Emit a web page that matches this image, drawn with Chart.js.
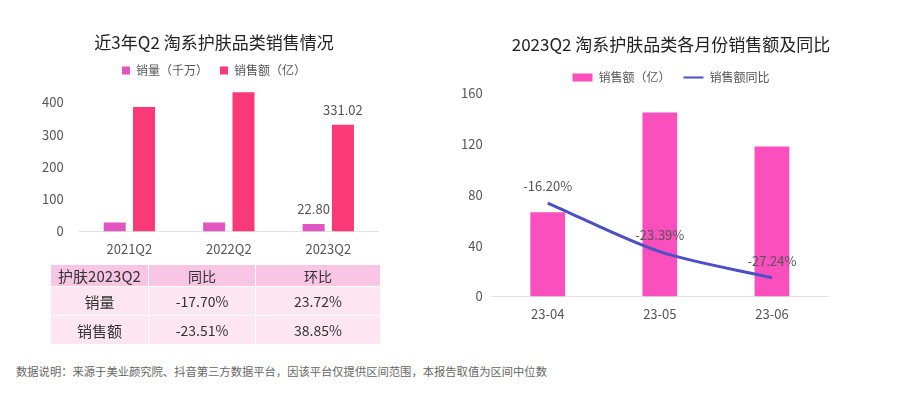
<!DOCTYPE html>
<html>
<head>
<meta charset="utf-8">
<script src="https://cdn.jsdelivr.net/npm/chart.js@4/dist/chart.umd.min.js"></script>
<style>
  body { margin: 0; background: #fff; width: 904px; height: 397px; overflow: hidden; font-family: "Noto Sans CJK SC", sans-serif; }
  #left { position: absolute; left: 0; top: 0; }
  #right { position: absolute; left: 450px; top: 0; }
  table { position: absolute; left: 50px; top: 264px; border-collapse: collapse; color: #333; }
  td { text-align: center; padding: 0; border: 1px solid #fff; }
  tr.hd td { background: #f8c6e4; height: 18px; font-size: 14px; }
  tr.row td { background: #fde6f2; height: 28px; font-size: 14px; }
  tr.row td:first-child { font-size: 15px; }
  tr.hd td:first-child { font-size: 15px; }
  .note { position: absolute; left: 16px; top: 363px; font-size: 11.3px; color: #666; white-space: nowrap; }
</style>
</head>
<body>
<canvas id="left" width="402" height="271"></canvas>
<canvas id="right" width="440" height="336"></canvas>
<table id="tbl"></table>
<div class="note">数据说明：来源于美业颜究院、抖音第三方数据平台，因该平台仅提供区间范围，本报告取值为区间中位数</div>
<script>
// 左图：近3年Q2
const quarters = ['2021Q2', '2022Q2', '2023Q2'];
const salesVolume = [28.0, 27.7, 22.80];      // 销量（千万）
const salesAmount = [386, 432, 331.02];       // 销售额（亿）
const leftTicks = [0, 100, 200, 300, 400];

// 表格
const tableHead = ['护肤2023Q2', '同比', '环比'];
const tableRows = [
    ['销量', '-17.70%', '23.72%'],
    ['销售额', '-23.51%', '38.85%']
];

// 右图：各月份
const months = ['23-04', '23-05', '23-06'];
const monthAmount = [66.4, 144.9, 118.2];     // 销售额（亿）
const monthYoY = [-16.20, -23.39, -27.24];    // 销售额同比 %
const rightTicks = [0, 40, 80, 120, 160];

const FONT = '"Noto Sans CJK SC", sans-serif';

// 表格
const tbl = document.getElementById('tbl');
const widths = [97, 106, 124];
let html = '<tr class="hd">' + tableHead.map((t, i) => `<td style="width:${widths[i]}px">${t}</td>`).join('') + '</tr>';
tableRows.forEach(r => {
    html += '<tr class="row">' + r.map(t => `<td>${t}</td>`).join('') + '</tr>';
});
tbl.innerHTML = html;

// 数据标签插件
const labelPlugin = {
    id: 'valueLabels',
    afterDatasetsDraw(chart) {
        const ctx = chart.ctx;
        ctx.save();
        ctx.font = '13px ' + FONT;
        ctx.fillStyle = '#555';
        ctx.textAlign = 'center';
        ctx.textBaseline = 'bottom';
        chart.data.datasets.forEach((ds, di) => {
            if (!ds.showLabels) return;
            const meta = chart.getDatasetMeta(di);
            meta.data.forEach((el, i) => {
                if (ds.showLabels !== true && !ds.showLabels.includes(i)) return;
                const v = ds.data[i];
                const txt = ds.labelFmt ? ds.labelFmt(v) : v;
                ctx.fillText(txt, el.x, el.y - (ds.labelOffset || 4));
            });
        });
        ctx.restore();
    }
};

const keepTicks = list => (axis) => {
    axis.ticks = list.map(v => ({ value: v }));
};

// 右侧留白用的隐藏轴
const spacer = w => ({
    display: true,
    position: 'right',
    grid: { display: false, drawTicks: false },
    border: { display: false },
    ticks: { display: false },
    afterFit(axis) { axis.width = w; }
});

new Chart(document.getElementById('left'), {
    type: 'bar',
    data: {
        labels: quarters,
        datasets: [
            {
                label: '销量（千万）',
                data: salesVolume,
                backgroundColor: '#e055c0',
                barPercentage: 0.75,
                categoryPercentage: 0.59,
                showLabels: [2],
                labelFmt: v => v.toFixed(2),
                labelOffset: 8
            },
            {
                label: '销售额（亿）',
                data: salesAmount,
                backgroundColor: '#fa3a78',
                barPercentage: 0.75,
                categoryPercentage: 0.59,
                showLabels: [2],
                labelFmt: v => v.toFixed(2),
                labelOffset: 8
            }
        ]
    },
    options: {
        responsive: false,
        animation: false,
        layout: { padding: { left: 26, right: 0, top: 32, bottom: 4 } },
        plugins: {
            title: {
                display: true,
                text: '近3年Q2 淘系护肤品类销售情况',
                color: '#222',
                font: { size: 17, family: FONT, weight: 'normal' },
                padding: { top: 0, bottom: 0 }
            },
            legend: {
                labels: {
                    boxWidth: 8, boxHeight: 8,
                    color: '#555',
                    font: { size: 12, family: FONT },
                    padding: 12
                }
            },
            tooltip: { enabled: false }
        },
        scales: {
            x: {
                grid: { display: false, drawTicks: false },
                border: { color: '#e3e3e3' },
                ticks: { color: '#555', font: { size: 13, family: FONT }, padding: 10 }
            },
            y: {
                min: 0, max: 450,
                afterBuildTicks: keepTicks(leftTicks),
                grid: { display: false, drawTicks: false },
                border: { display: false },
                ticks: { color: '#555', font: { size: 13, family: FONT }, padding: 16 }
            },
            pad: spacer(24)
        }
    },
    plugins: [labelPlugin]
});

new Chart(document.getElementById('right'), {
    type: 'bar',
    data: {
        labels: months,
        datasets: [
            {
                type: 'line',
                label: '销售额同比',
                data: monthYoY,
                yAxisID: 'y1',
                borderColor: '#4d4fc4',
                backgroundColor: '#4d4fc4',
                borderWidth: 3,
                tension: 0.3,
                pointRadius: 0,
                order: 0,
                showLabels: true,
                labelFmt: v => v.toFixed(2) + '%',
                labelOffset: 10
            },
            {
                label: '销售额（亿）',
                data: monthAmount,
                backgroundColor: '#fc4fbe',
                barPercentage: 1,
                categoryPercentage: 0.31,
                order: 1
            }
        ]
    },
    options: {
        responsive: false,
        animation: false,
        layout: { padding: { left: 2, right: 0, top: 34, bottom: 4 } },
        plugins: {
            title: {
                display: true,
                text: '2023Q2 淘系护肤品类各月份销售额及同比',
                color: '#222',
                font: { size: 17, family: FONT, weight: 'normal' },
                padding: { top: 0, bottom: 4 }
            },
            legend: {
                reverse: true,
                labels: {
                    usePointStyle: true,
                    pointStyleWidth: 20,
                    boxHeight: 8,
                    color: '#555',
                    font: { size: 12, family: FONT },
                    padding: 13,
                    generateLabels(chart) {
                        const items = Chart.defaults.plugins.legend.labels.generateLabels(chart);
                        items.forEach(it => {
                            it.pointStyle = it.datasetIndex === 0 ? 'line' : 'rect';
                            if (it.datasetIndex === 0) it.lineWidth = 2;
                        });
                        return items;
                    }
                }
            },
            tooltip: { enabled: false }
        },
        scales: {
            x: {
                grid: { display: false, drawTicks: false },
                border: { color: '#e3e3e3' },
                ticks: { color: '#555', font: { size: 13, family: FONT }, padding: 10 }
            },
            y: {
                min: 0, max: 160,
                afterBuildTicks: keepTicks(rightTicks),
                grid: { display: false, drawTicks: false },
                border: { display: false },
                ticks: { color: '#555', font: { size: 13, family: FONT }, padding: 9 }
            },
            y1: Object.assign(spacer(62), { min: -30, max: 0 })
        }
    },
    plugins: [labelPlugin]
});
</script>
</body>
</html>
